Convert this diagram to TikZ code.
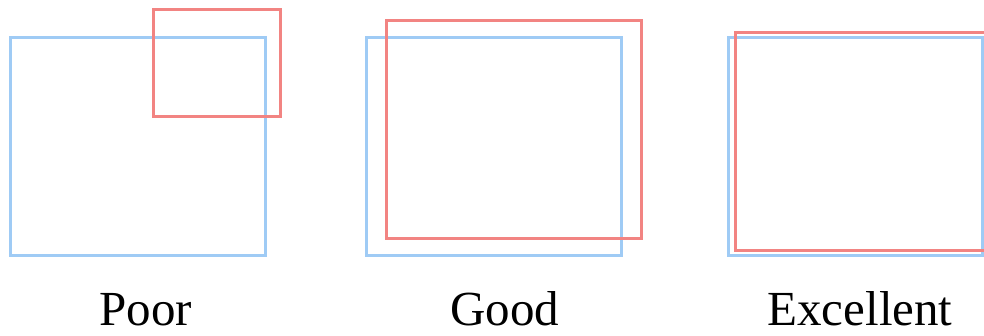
\documentclass[tikz,border=0pt]{standalone}
\usepackage{fontspec}
\setmainfont{Liberation Serif}
\definecolor{gtblue}{HTML}{9FCBF5}
\definecolor{predred}{HTML}{F28482}
\tikzset{
  box/.style={draw, line width=3pt, minimum width=255pt, minimum height=218pt, inner sep=0pt, outer sep=0pt, anchor=center},
  gtbox/.style={box, draw=gtblue},
  predbox/.style={box, draw=predred},
  lbl/.style={anchor=base, inner sep=0pt, font=\fontsize{49}{58}\selectfont}
}
\begin{document}
\begin{tikzpicture}[x=1pt,y=-1pt]
\useasboundingbox (0,0) rectangle (984,336);
\clip (0,0) rectangle (984,336);
% Poor
\node[gtbox] (poorgt) at (138,146.5) {};
\node[predbox, minimum width=126.5pt, minimum height=106.5pt] (poorpred) at (216.75,63.25) {};
\node[lbl] (poorlbl) at (146,325) {Poor};
% Good
\node[gtbox] (goodgt) at (494,146.75) {};
\node[predbox] (goodpred) at (514,129.25) {};
\node[lbl] (goodlbl) at (505,325) {Good};
% Excellent
\node[gtbox, minimum width=254pt] (exgt) at (855,146.5) {};
\node[predbox] (expred) at (863,141.25) {};
\node[lbl] (exlbl) at (860,325) {Excellent};
\end{tikzpicture}
\end{document}
